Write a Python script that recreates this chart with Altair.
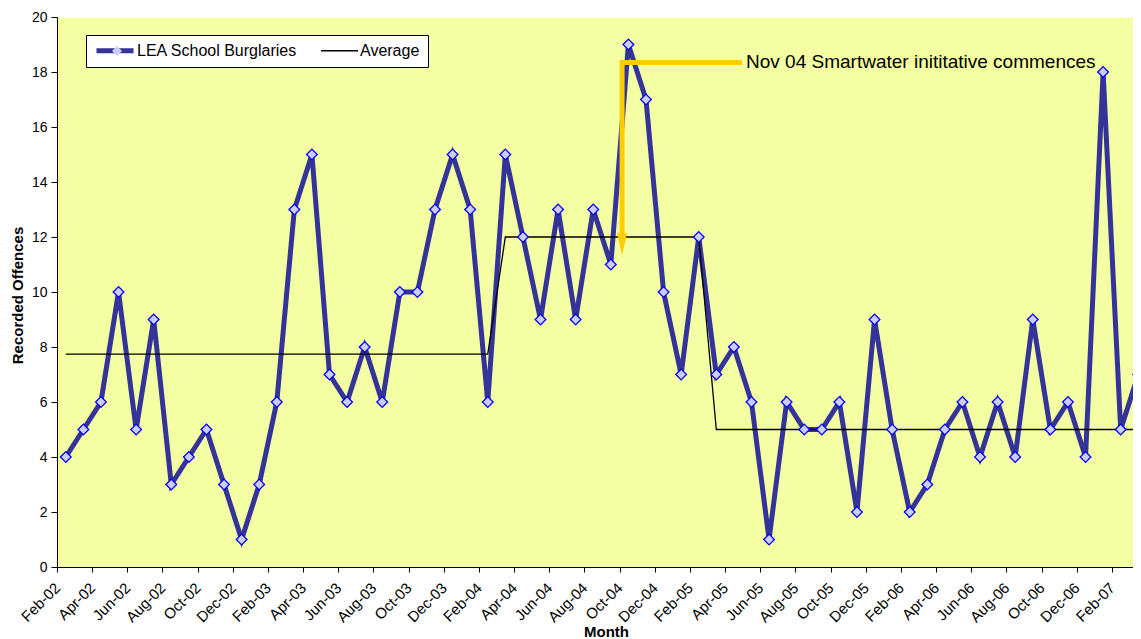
import json
import altair as alt
import pandas as pd

# ---- data ----
tick_labels = ["Feb-02", "Apr-02", "Jun-02", "Aug-02", "Oct-02", "Dec-02",
               "Feb-03", "Apr-03", "Jun-03", "Aug-03", "Oct-03", "Dec-03",
               "Feb-04", "Apr-04", "Jun-04", "Aug-04", "Oct-04", "Dec-04",
               "Feb-05", "Apr-05", "Jun-05", "Aug-05", "Oct-05", "Dec-05",
               "Feb-06", "Apr-06", "Jun-06", "Aug-06", "Oct-06", "Dec-06",
               "Feb-07"]

burglaries = [4, 5, 6, 10, 5, 9, 3, 4, 5, 3, 1, 3,
              6, 13, 15, 7, 6, 8, 6, 10, 10, 13, 15, 13,
              6, 15, 12, 9, 13, 9, 13, 11, 19, 17, 10, 7,
              12, 7, 8, 6, 1, 6, 5, 5, 6, 2, 9, 5,
              2, 3, 5, 6, 4, 6, 4, 9, 5, 6, 4, 18,
              5, 7]

average = [7.74, 7.74, 7.74, 7.74, 7.74, 7.74, 7.74, 7.74, 7.74, 7.74, 7.74, 7.74,
           7.74, 7.74, 7.74, 7.74, 7.74, 7.74, 7.74, 7.74, 7.74, 7.74, 7.74, 7.74,
           7.74, 12, 12, 12, 12, 12, 12, 12, 12, 12, 12, 12,
           12, 5, 5, 5, 5, 5, 5, 5, 5, 5, 5, 5,
           5, 5, 5, 5, 5, 5, 5, 5, 5, 5, 5, 5,
           5, 5]

series_names = ["LEA School Burglaries", "Average"]

# annotation (data coordinates: month index / offences)
ann_x = [38.46, 31.64, 31.64]
ann_y = [18.35, 18.35, 12.0]
arrow_x = [31.64]
arrow_y = [11.74]
ann_text = ["Nov 04 Smartwater inititative commences"]
ann_text_x = [38.69]
ann_text_y = [18.36]

FONT = "Liberation Sans"

rows = []
for i, v in enumerate(burglaries):
    rows.append({"idx": i, "value": v, "series": series_names[0]})
for i, v in enumerate(average):
    rows.append({"idx": i, "value": v, "series": series_names[1]})
df = pd.DataFrame(rows)
df_pts = df[df["series"] == series_names[0]]

df_ann = pd.DataFrame({"idx": ann_x, "value": ann_y, "step": [0, 1, 2]})
df_arrow = pd.DataFrame({"idx": arrow_x, "value": arrow_y})
df_text = pd.DataFrame({"idx": ann_text_x, "value": ann_text_y, "label": ann_text})

x_ticks = [-0.5 + 2 * k for k in range(len(tick_labels))]
label_expr = json.dumps(tick_labels) + "[round((datum.value + 0.5) / 2)]"

x_enc = alt.X(
    "idx:Q",
    scale=alt.Scale(domain=[-0.5, 60.70], nice=False, zero=False),
    axis=alt.Axis(
        values=x_ticks, tickCount=100, labelExpr=label_expr, labelAngle=-45, labelAlign="right",
        labelBaseline="middle", labelFontSize=15, labelPadding=13, labelFlush=False,
        labelOverlap=False, labelBound=False, tickSize=5, grid=False,
        title="Month", titleFontSize=15, titleFontWeight="bold",
        titleX=549, titleY=64, titleBaseline="middle",
    ),
)
y_enc = alt.Y(
    "value:Q",
    scale=alt.Scale(domain=[0, 20], nice=False),
    axis=alt.Axis(
        values=list(range(0, 21, 2)), labelFontSize=14, labelPadding=4, tickSize=6,
        grid=False, title="Recorded Offences", titleFontSize=15, titleFontWeight="bold",
        titleX=-40, titleY=278, titleBaseline="middle",
    ),
)

main_legend = alt.Legend(
    title=None, orient="none", legendX=29, legendY=18, direction="horizontal",
    fillColor="white", strokeColor="black", padding=8, cornerRadius=0,
    symbolType="stroke", symbolSize=1369, clipHeight=15, labelFontSize=16, labelFont=FONT,
    labelColor="black", labelOffset=1, columnPadding=22, labelLimit=400,
)

lines = alt.Chart(df).mark_line().encode(
    x=x_enc,
    y=y_enc,
    color=alt.Color("series:N", scale=alt.Scale(domain=series_names, range=["#333399", "#000000"]),
                    legend=main_legend),
    strokeWidth=alt.StrokeWidth("series:N", scale=alt.Scale(domain=series_names, range=[5, 1.3]),
                                legend=main_legend),
)

points = alt.Chart(df_pts).mark_point(
    filled=True, fill="#CCCCFF", stroke="#0000FF", strokeWidth=1.3, size=115, opacity=1
).encode(
    x="idx:Q",
    y="value:Q",
    shape=alt.Shape("series:N", scale=alt.Scale(domain=[series_names[0]], range=["diamond"]),
                    legend=alt.Legend(title=None, orient="none", legendX=54, legendY=28,
                                      padding=0, symbolSize=100, symbolStrokeWidth=1.3,
                                      symbolFillColor="#CCCCFF", symbolStrokeColor="#0000FF",
                                      labelExpr="''", labelFontSize=1, zindex=2)),
)

ann_line = alt.Chart(df_ann).mark_line(color="#FFCC00", strokeWidth=5).encode(
    x="idx:Q", y="value:Q", order="step:Q"
)
arrow = alt.Chart(df_arrow).mark_point(
    shape="M-0.45,-1L0.45,-1L0,1Z", filled=True, color="#FFCC00", size=484, opacity=1
).encode(x="idx:Q", y="value:Q")
text = alt.Chart(df_text).mark_text(
    align="left", baseline="middle", fontSize=19, font=FONT, color="black"
).encode(x="idx:Q", y="value:Q", text="label:N")

chart = alt.layer(lines, points, ann_line, arrow, text).properties(
    width=1076, height=550,
    autosize=alt.AutoSizeParams(type="none"),
    padding={"left": 49, "top": 9, "right": 0, "bottom": 72},
).configure_view(
    fill="#F4FFA3", stroke="transparent"
).configure_axis(
    labelFont=FONT, titleFont=FONT, labelColor="black", titleColor="black",
    domainColor="black", tickColor="black", domainWidth=1, tickWidth=1,
)

chart.save("out.html", embed_options={"renderer": "svg", "actions": False})
